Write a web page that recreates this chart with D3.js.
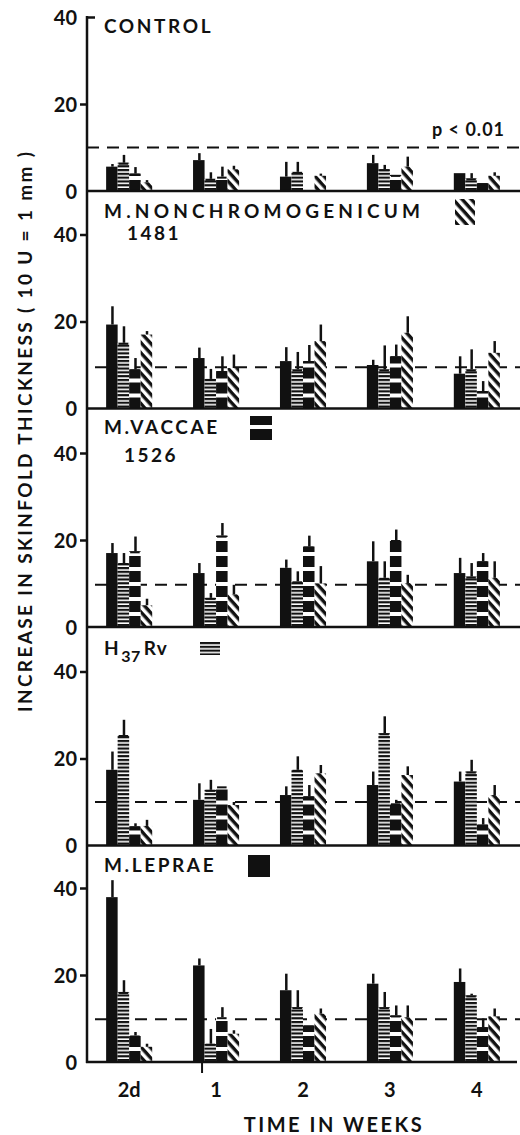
<!DOCTYPE html>
<html>
<head>
<meta charset="utf-8">
<script src="https://cdn.jsdelivr.net/npm/d3@7"></script>
<style>
  body { margin: 0; background: #fff; }
  svg { display: block; background: #fff; }
  text { font-family: Lato, "DejaVu Sans", sans-serif; font-weight: 700; fill: #111; }
</style>
</head>
<body>
<svg id="chart"></svg>
<script>
// categories and series
const groups = ["2d", "1", "2", "3", "4"];
const seriesKeys = ["solid", "stripes", "blocks", "hatch"];
const yTicks = [0, 20, 40];

// panel labels
const panelTitles = ["CONTROL", "M.NONCHROMOGENICUM", "M.VACCAE", "H37Rv", "M.LEPRAE"];
const panelStrains = ["", "1481", "1526", "", ""];
const panelLegend = [null, "hatch", "blocks", "stripes", "solid"];
const pLevel = [10, 9.5, 9.7, 10, 9.8]; // p < 0.01 line per panel

// means [group][series] and error bars
const controlMean = [[5.6, 6.5, 4, 2], [7.1, 2.8, 3.3, 5], [3.3, 4.4, 0, 3.5], [6.4, 5, 3.7, 5.6], [4.1, 2.9, 1.8, 3.5]];
const controlErr  = [[0.6, 1.8, 1.5, 0.5], [1.6, 1.5, 2.3, 0.8], [3.4, 2.3, 0, 0.5], [1.9, 1, 0, 2.3], [0, 1.2, 0, 0.8]];

const nonchromMean = [[19.3, 15.1, 9, 17], [11.6, 6.8, 8.6, 9.3], [10.9, 9, 10.9, 15.5], [10, 9, 12, 17.4], [8, 9, 4, 12.8]];
const nonchromErr  = [[4.2, 3.8, 2.6, 0.8], [2.4, 2.3, 3.4, 3.1], [3.2, 4, 3.7, 3.8], [1.2, 5.5, 2.7, 3.8], [4, 4.6, 2.3, 2.7]];

const vaccaeMean = [[17, 14.7, 17.4, 5], [12.4, 6.7, 21, 7.5], [13.6, 10.5, 18.5, 10], [15.1, 11.3, 20, 10.1], [12.4, 11.6, 15.1, 11.3]];
const vaccaeErr  = [[2.3, 2.3, 3.4, 1.5], [2.3, 1.1, 2.9, 2.2], [1.9, 2.3, 2.5, 4], [4.6, 3.8, 2.4, 1.9], [3.5, 3.1, 1.9, 3.8]];

const h37Mean = [[17.4, 25.4, 4.4, 4.5], [10.5, 12.8, 13.6, 9.3], [11.6, 17.4, 11.3, 16.6], [13.9, 25.8, 9.7, 16.2], [14.7, 17, 4.8, 11.6]];
const h37Err  = [[4.2, 3.5, 0.7, 1.4], [3.8, 2.3, 0, 0.7], [2, 3.1, 2.6, 1.9], [3.1, 3.9, 0.8, 2], [2.3, 2.7, 1.5, 2.3]];

const lepraeMean = [[37.9, 16.1, 6.1, 3.5], [22.2, 4.2, 10.3, 6.5], [16.5, 12.6, 8.4, 11.1], [18, 12.6, 10.7, 10.3], [18.4, 15.3, 8, 10.5]];
const lepraeErr  = [[3.9, 2.7, 0.8, 0.7], [1.6, 3.4, 2.3, 0.8], [3.8, 3.9, 0, 1.2], [2.3, 3.5, 2.3, 2.7], [3.1, 0.4, 2, 1.8]];

const panelMeans = [controlMean, nonchromMean, vaccaeMean, h37Mean, lepraeMean];
const panelErrs = [controlErr, nonchromErr, vaccaeErr, h37Err, lepraeErr];

// layout
const W = 520, H = 1135;
const AXIS_X = 87, RIGHT = 520;
const PANEL_H = 174;
const baselines = [191, 408.5, 627, 845.5, 1062];
const titleY = [33, 218, 434, 655, 872];
const strainPos = [null, [127, 240], [124, 462], null, null];
const swatchPos = [null, [455, 199, 20, 26], [250, 416, 22, 26], [200, 642, 20, 13], [248, 855, 22, 22]];
const INK = "#111";

const SVG = d3.select("#chart").attr("width", W).attr("height", H);
SVG.append("rect").attr("width", W).attr("height", H).attr("fill", "#fff");

// fill patterns
const defs = SVG.append("defs");
const stripes = defs.append("pattern").attr("id", "stripes")
  .attr("patternUnits", "userSpaceOnUse").attr("width", 8).attr("height", 3.8);
stripes.append("rect").attr("width", 8).attr("height", 3.8).attr("fill", "#fff");
stripes.append("rect").attr("width", 8).attr("height", 2.2).attr("fill", INK);

const blocks = defs.append("pattern").attr("id", "blocks")
  .attr("patternUnits", "userSpaceOnUse").attr("width", 8).attr("height", 15)
  .attr("y", PANEL_H % 15);
blocks.append("rect").attr("width", 8).attr("height", 15).attr("fill", "#fff");
blocks.append("rect").attr("y", 4).attr("width", 8).attr("height", 11).attr("fill", INK);

const hatch = defs.append("pattern").attr("id", "hatch")
  .attr("patternUnits", "userSpaceOnUse").attr("width", 6.8).attr("height", 6.8)
  .attr("patternTransform", "rotate(48)");
hatch.append("rect").attr("width", 6.8).attr("height", 6.8).attr("fill", "#fff");
hatch.append("rect").attr("width", 6.8).attr("height", 3.4).attr("fill", INK);

const fills = { solid: INK, stripes: "url(#stripes)", blocks: "url(#blocks)", hatch: "url(#hatch)" };

// scales
const x = d3.scaleBand().domain(groups).range([AXIS_X, 519]).paddingInner(0.47).paddingOuter(0.22);
const xs = d3.scaleBand().domain(seriesKeys).range([0, x.bandwidth()]);
const y = d3.scaleLinear().domain([0, 40]).range([PANEL_H, 0]);

panelTitles.forEach((title, i) => {
  const g = SVG.append("g").attr("transform", `translate(0,${baselines[i] - PANEL_H})`);

  // p < 0.01 reference line
  g.append("line")
    .attr("x1", i === 0 ? AXIS_X : 95).attr("x2", RIGHT)
    .attr("y1", y(pLevel[i])).attr("y2", y(pLevel[i]))
    .attr("stroke", INK).attr("stroke-width", 2).attr("stroke-dasharray", "12,8");

  const rows = [];
  groups.forEach((grp, gi) => seriesKeys.forEach((s, si) => {
    rows.push({ grp, s, v: panelMeans[i][gi][si], e: panelErrs[i][gi][si] });
  }));

  g.selectAll("rect.bar").data(rows.filter(d => d.v > 0)).enter().append("rect")
    .attr("class", "bar")
    .attr("x", d => x(d.grp) + xs(d.s))
    .attr("width", xs.bandwidth())
    .attr("y", d => y(d.v))
    .attr("height", d => y(0) - y(d.v))
    .attr("fill", d => fills[d.s]);

  // top caps on patterned bars
  g.selectAll("line.cap").data(rows.filter(d => d.v > 0 && (d.s === "blocks" || d.s === "stripes"))).enter().append("line")
    .attr("class", "cap")
    .attr("x1", d => x(d.grp) + xs(d.s) + 1)
    .attr("x2", d => x(d.grp) + xs(d.s) + xs.bandwidth() - 1)
    .attr("y1", d => y(d.v) + 1).attr("y2", d => y(d.v) + 1)
    .attr("stroke", INK).attr("stroke-width", 2);

  // error bars
  g.selectAll("line.err").data(rows.filter(d => d.e > 0)).enter().append("line")
    .attr("class", "err")
    .attr("x1", d => x(d.grp) + xs(d.s) + xs.bandwidth() * 0.55)
    .attr("x2", d => x(d.grp) + xs(d.s) + xs.bandwidth() * 0.55)
    .attr("y1", d => y(d.v))
    .attr("y2", d => y(d.v + d.e))
    .attr("stroke", INK).attr("stroke-width", 2.5);

  // baseline
  g.append("line")
    .attr("x1", AXIS_X - 1).attr("x2", i === 4 ? 517 : RIGHT)
    .attr("y1", y(0)).attr("y2", y(0))
    .attr("stroke", INK).attr("stroke-width", 2.5);

  // y ticks
  const axis = d3.axisLeft(y).tickValues(yTicks).tickSize(7).tickPadding(3).tickFormat(d3.format("d"));
  g.append("g").attr("transform", `translate(${AXIS_X},0)`).call(axis)
    .call(a => {
      a.attr("font-family", null).attr("font-size", 20);
      a.select(".domain").remove();
      a.selectAll(".tick line").attr("stroke", INK).attr("stroke-width", 2.5);
      a.selectAll(".tick").filter(d => d === 0).select("line").remove();
      if (i === 0) a.selectAll(".tick").filter(d => d === 40).select("line").attr("x2", 8);
      a.selectAll(".tick text").attr("fill", INK).attr("dy", "0.36em");
    });

  // titles
  const t = SVG.append("text").attr("x", 104).attr("y", titleY[i])
    .attr("font-size", 19).attr("letter-spacing", title.length > 10 ? 4.2 : 2.6);
  if (title === "H37Rv") {
    t.append("tspan").text("H");
    t.append("tspan").attr("dy", 7).attr("font-size", 16).attr("letter-spacing", 0.5).text("37");
    t.append("tspan").attr("dy", -7).attr("dx", 3).attr("letter-spacing", 1).text("Rv");
  } else {
    t.text(title);
  }
  if (strainPos[i]) {
    SVG.append("text").attr("x", strainPos[i][0]).attr("y", strainPos[i][1])
      .attr("font-size", 19).attr("letter-spacing", 2.5).text(panelStrains[i]);
  }
  if (swatchPos[i]) {
    const [sx, sy, sw, sh] = swatchPos[i];
    SVG.append("g").attr("transform", `translate(${sx},${sy})`)
      .append("rect").attr("width", sw).attr("height", sh)
      .attr("fill", fills[panelLegend[i]]);
  }
});

// continuous y axis line
SVG.append("line")
  .attr("x1", AXIS_X).attr("x2", AXIS_X)
  .attr("y1", baselines[0] - PANEL_H - 1).attr("y2", baselines[4] + 1)
  .attr("stroke", INK).attr("stroke-width", 2.5);

// small tick under the bottom axis
SVG.append("line")
  .attr("x1", x("1") + 9).attr("x2", x("1") + 9)
  .attr("y1", baselines[4]).attr("y2", baselines[4] + 11)
  .attr("stroke", INK).attr("stroke-width", 2);

// p label
SVG.append("text").attr("x", 432).attr("y", 136).attr("font-size", 18).attr("letter-spacing", 1).text("p < 0.01");

// x labels
SVG.selectAll("text.xlab").data(groups).enter().append("text")
  .attr("class", "xlab")
  .attr("x", d => x(d) + x.bandwidth() / 2)
  .attr("y", 1097)
  .attr("text-anchor", "middle")
  .attr("font-size", 20)
  .text(d => d);

SVG.append("text").attr("x", 334).attr("y", 1132).attr("text-anchor", "middle")
  .attr("font-size", 20).attr("letter-spacing", 2.5).text("TIME IN WEEKS");

// y label
SVG.append("text")
  .attr("transform", "translate(25,432) rotate(-90)")
  .attr("text-anchor", "middle").attr("dy", "0.36em")
  .attr("font-size", 19)
  .attr("textLength", 560).attr("lengthAdjust", "spacing")
  .text("INCREASE IN SKINFOLD THICKNESS ( 10 U = 1 mm )");
</script>
</body>
</html>
